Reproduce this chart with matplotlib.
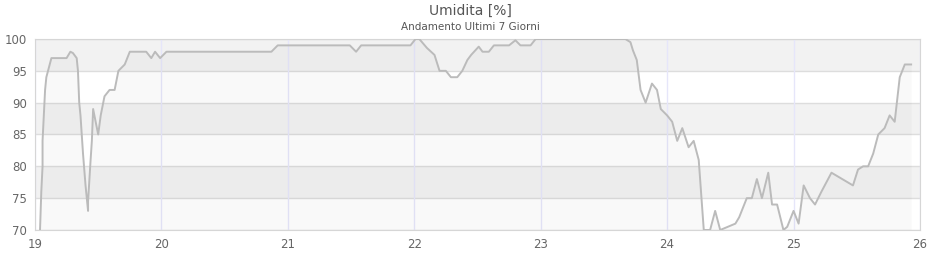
import matplotlib
matplotlib.use("Agg")
import matplotlib.pyplot as plt

# giorni (asse x) e umidita relativa [%]
days = [19.04, 19.05, 19.06, 19.06, 19.07, 19.08, 19.09, 19.11, 19.13, 19.25,
        19.28, 19.30, 19.33, 19.34, 19.35, 19.36, 19.37, 19.38, 19.39, 19.40,
        19.42, 19.42, 19.44, 19.45, 19.46, 19.50, 19.52, 19.55, 19.59, 19.63,
        19.66, 19.71, 19.75, 19.88, 19.92, 19.95, 19.99, 20.04, 20.87, 20.92,
        21.49, 21.54, 21.58, 21.97, 22.01, 22.04, 22.10, 22.16, 22.20, 22.25,
        22.29, 22.34, 22.38, 22.42, 22.45, 22.51, 22.54, 22.59, 22.63, 22.75,
        22.80, 22.84, 22.92, 22.96, 23.67, 23.71, 23.73, 23.76, 23.79, 23.83,
        23.88, 23.92, 23.95, 24.00, 24.04, 24.08, 24.12, 24.17, 24.21, 24.25,
        24.29, 24.34, 24.38, 24.42, 24.54, 24.57, 24.60, 24.63, 24.67, 24.71,
        24.75, 24.80, 24.83, 24.87, 24.92, 24.95, 24.97, 25.00, 25.04, 25.08,
        25.13, 25.17, 25.22, 25.30, 25.47, 25.51, 25.55, 25.59, 25.63, 25.67,
        25.72, 25.76, 25.80, 25.84, 25.88, 25.93]
umidita = [70, 76, 80, 84, 88, 92, 94, 95.5, 97, 97,
           98, 97.8, 97, 95, 90, 88, 85, 82, 79.5, 77,
           73, 74.5, 81, 84, 89, 85, 88, 91, 92, 92,
           95, 96, 98, 98, 97, 98, 97, 98, 98, 99,
           99, 98, 99, 99, 100, 100, 98.6, 97.5, 95, 95,
           94, 94, 95, 96.7, 97.5, 98.8, 98, 98, 99, 99,
           99.8, 99, 99, 100, 100, 99.5, 98.2, 96.7, 92, 90,
           93, 92, 89, 88, 87, 84, 86, 83, 84, 81,
           70, 70, 73, 70, 71, 72, 73.5, 75, 75, 78,
           75, 79, 74, 74, 70, 70.5, 71.5, 73, 71, 77,
           75, 74, 76, 79, 77, 79.5, 80, 80, 82, 85,
           86, 88, 87, 94, 96, 96]

x_ticks = [19, 20, 21, 22, 23, 24, 25, 26]
y_ticks = [70, 75, 80, 85, 90, 95, 100]

fig = plt.figure(figsize=(9.4, 2.6), dpi=100)
ax = fig.add_axes([0.0372, 0.1154, 0.9415, 0.7346])
ax.set_xlim(19, 26)
ax.set_ylim(70, 100)

# bande alternate
for i in range(len(y_ticks) - 1):
    col = "#f2f2f2" if i % 2 == 1 else "white"
    ax.axhspan(y_ticks[i], y_ticks[i + 1], color=col, zorder=0, lw=0)

for y in y_ticks:
    ax.axhline(y, color="#dddddd", lw=1, zorder=1)
for x in x_ticks:
    ax.axvline(x, color="#e6e6fa", lw=1, zorder=1)

ax.fill_between(days, umidita, 70, color="black", alpha=0.025, lw=0, zorder=2)
ax.plot(days, umidita, color="#bbbbbb", lw=1.4, zorder=3)

ax.set_xticks(x_ticks)
ax.set_yticks(y_ticks)
ax.tick_params(length=0, labelsize=8.5, labelcolor="#666666", pad=6)
for s in ax.spines.values():
    s.set_color("#d6d6d6")

fig.text(0.5, 0.96, "Umidita [%]", ha="center", va="center",
         fontsize=10, color="#555555")
fig.text(0.5, 0.895, "Andamento Ultimi 7 Giorni", ha="center", va="center",
         fontsize=7.5, color="#555555")

fig.savefig("out.png", dpi=100)
